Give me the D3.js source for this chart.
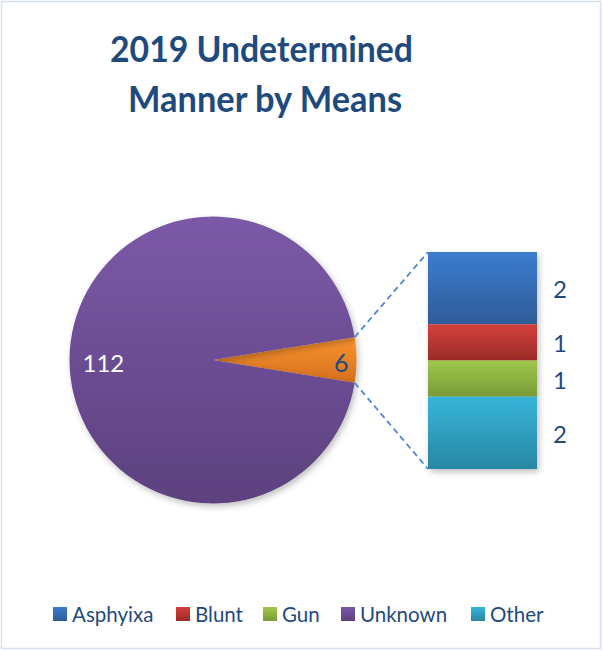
<!DOCTYPE html>
<html>
<head>
<meta charset="utf-8">
<script src="https://cdn.jsdelivr.net/npm/d3@7"></script>
<style>
body { margin: 0; background: #fff; }
text { font-family: Lato, "Open Sans", sans-serif; }
</style>
</head>
<body>
<div id="chart"></div>
<script>
var width = 603, height = 651;

// data
var pieCats = ["Other", "Unknown"];
var pieVals = [6, 112];
var barCats = ["Asphyixa", "Blunt", "Gun", "Other"];
var barVals = [2, 1, 1, 2];
var legendCats = ["Asphyixa", "Blunt", "Gun", "Unknown", "Other"];

var colors = {
  "Asphyixa": ["#3C7DD0", "#2E5C98"],
  "Blunt": ["#D2403C", "#9C2B28"],
  "Gun": ["#9FC84B", "#789A37"],
  "Unknown": ["#7B59A7", "#5D417F"],
  "Other": ["#36B5DA", "#2887A3"],
  "OtherPie": ["#FA9530", "#D46F1C"]
};

var svg = d3.select("#chart").append("svg")
  .attr("width", width)
  .attr("height", height);

var defs = svg.append("defs");
Object.keys(colors).forEach(function (k) {
  var g = defs.append("linearGradient")
    .attr("id", "grad-" + k)
    .attr("x1", 0).attr("y1", 0).attr("x2", 0).attr("y2", 1);
  g.append("stop").attr("offset", "0%").attr("stop-color", colors[k][0]);
  g.append("stop").attr("offset", "100%").attr("stop-color", colors[k][1]);
});
var sh = defs.append("filter").attr("id", "shadow")
  .attr("x", "-10%").attr("y", "-10%").attr("width", "130%").attr("height", "130%");
sh.append("feDropShadow").attr("dx", 2).attr("dy", 3).attr("stdDeviation", 3)
  .attr("flood-color", "#000").attr("flood-opacity", 0.25);

// frame
svg.append("rect")
  .attr("x", 1.5).attr("y", 1.5)
  .attr("width", width - 4).attr("height", height - 4)
  .attr("fill", "#fff")
  .attr("stroke", "#D6E0EE")
  .attr("stroke-width", 1.5);

// title
svg.append("text")
  .attr("x", 261.5).attr("y", 62)
  .attr("text-anchor", "middle")
  .attr("fill", "#1F4A7E")
  .attr("font-weight", "bold")
  .attr("font-size", 36)
  .attr("textLength", 303)
  .attr("lengthAdjust", "spacingAndGlyphs")
  .text("2019 Undetermined");
svg.append("text")
  .attr("x", 265).attr("y", 112)
  .attr("text-anchor", "middle")
  .attr("fill", "#1F4A7E")
  .attr("font-weight", "bold")
  .attr("font-size", 36)
  .attr("textLength", 274)
  .attr("lengthAdjust", "spacingAndGlyphs")
  .text("Manner by Means");

// pie
var cx = 213, cy = 360, r = 143.5;
var total = d3.sum(pieVals);
var smallAngle = 2 * Math.PI * pieVals[0] / total;
var pie = d3.pie().sort(null)
  .startAngle(Math.PI / 2 - smallAngle / 2)
  .endAngle(Math.PI / 2 - smallAngle / 2 + 2 * Math.PI);
var arc = d3.arc().innerRadius(0).outerRadius(r);
var pieData = pie(pieVals);

var pg = svg.append("g").attr("transform", "translate(" + cx + "," + cy + ")");
pg.selectAll("path")
  .data(pieData)
  .enter().append("path")
  .attr("d", arc)
  .attr("filter", "url(#shadow)")
  .attr("fill", function (d, i) {
    return pieCats[i] === "Other" ? "url(#grad-OtherPie)" : "url(#grad-" + pieCats[i] + ")";
  });

// pie labels
pg.append("text")
  .attr("x", r - 8).attr("y", 12)
  .attr("text-anchor", "end")
  .attr("font-size", 25)
  .attr("fill", "#1F4A7E")
  .text(pieVals[0]);
pg.append("text")
  .attr("x", -r + 13).attr("y", 12)
  .attr("text-anchor", "start")
  .attr("font-size", 24)
  .attr("fill", "#fff")
  .text(pieVals[1]);

// bar of pie
var barX = 428, barW = 109, barTop = 252, barBot = 469;
var y = d3.scaleLinear().domain([0, d3.sum(barVals)]).range([barTop, barBot]);
var cum = d3.cumsum(barVals);
var bars = barVals.map(function (v, i) {
  return { cat: barCats[i], v: v, y0: cum[i] - v, y1: cum[i] };
});

var bg = svg.append("g").attr("filter", "url(#shadow)");
bg.selectAll("rect")
  .data(bars)
  .enter().append("rect")
  .attr("x", barX)
  .attr("y", function (d) { return y(d.y0); })
  .attr("width", barW)
  .attr("height", function (d) { return y(d.y1) - y(d.y0); })
  .attr("fill", function (d) { return "url(#grad-" + d.cat + ")"; });

svg.selectAll(".barlabel")
  .data(bars)
  .enter().append("text")
  .attr("class", "barlabel")
  .attr("x", barX + barW + 23)
  .attr("y", function (d) { return (y(d.y0) + y(d.y1)) / 2 + 10; })
  .attr("text-anchor", "middle")
  .attr("font-size", 24)
  .attr("fill", "#1F4A7E")
  .text(function (d) { return d.v; });

// connector lines
var a0 = pieData[0].startAngle, a1 = pieData[0].endAngle;
var p0 = [cx + r * Math.sin(a0), cy - r * Math.cos(a0)];
var p1 = [cx + r * Math.sin(a1), cy - r * Math.cos(a1)];
[[p0, [barX, y(0)]], [p1, [barX, y(d3.sum(barVals))]]].forEach(function (l) {
  svg.append("line")
    .attr("x1", l[0][0]).attr("y1", l[0][1])
    .attr("x2", l[1][0]).attr("y2", l[1][1])
    .attr("stroke", "#4F87D2")
    .attr("stroke-width", 1.8)
    .attr("stroke-dasharray", "6,4");
});

// legend
var legendX = [53, 176, 263, 341, 471];
var legend = svg.selectAll(".legend")
  .data(legendCats)
  .enter().append("g")
  .attr("class", "legend")
  .attr("transform", function (d, i) { return "translate(" + legendX[i] + ",614)"; });
legend.append("rect")
  .attr("x", 0).attr("y", -7)
  .attr("width", 14).attr("height", 14)
  .attr("fill", function (d) { return "url(#grad-" + d + ")"; });
legend.append("text")
  .attr("x", 19).attr("y", 7.5)
  .attr("font-size", 20.5)
  .attr("fill", "#1F4A7E")
  .text(function (d) { return d; });
</script>
</body>
</html>
